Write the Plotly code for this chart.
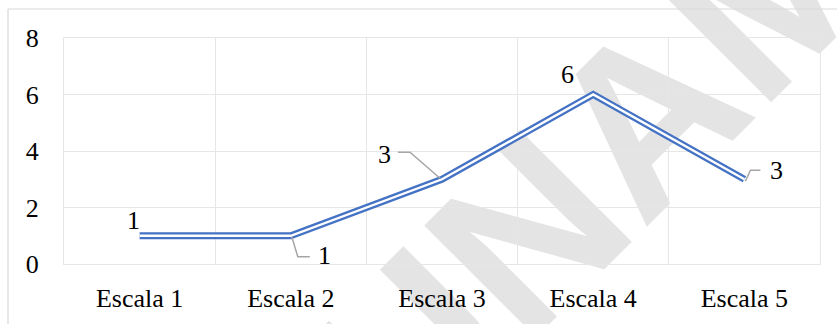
import plotly.graph_objects as go

# Chart data
categories = ["Escala 1", "Escala 2", "Escala 3", "Escala 4", "Escala 5"]
values = [1, 1, 3, 6, 3]
y_ticks = [0, 2, 4, 6, 8]

BLUE = "#4472C4"
GRID = "#e6e6e6"
LEADER = "#a6a6a6"
SERIF = "Times New Roman, Liberation Serif, DejaVu Serif, serif"

# plot-area geometry in pixels (used for paper-relative decorations)
W, H = 837, 324
ML, MR, MT, MB = 64, 17, 38, 60
PW, PH = W - ML - MR, H - MT - MB


def px_to_paper(px, py):
    return (px - ML) / PW, (H - MB - py) / PH


fig = go.Figure()

# double (compound) line: thick blue stroke with a thin white core
fig.add_trace(go.Scatter(x=categories, y=values, mode="lines",
                         line=dict(color=BLUE, width=7), hoverinfo="skip"))
fig.add_trace(go.Scatter(x=categories, y=values, mode="lines",
                         line=dict(color="white", width=2.4), hoverinfo="skip"))

# data labels: (x shift, y shift) in pixels for each point
label_shift = [(-6, 15), (34, -20), (-58, 25), (-26, 20), (32, 9)]
for cat, v, (dx, dy) in zip(categories, values, label_shift):
    fig.add_annotation(x=cat, y=v, text=str(v), showarrow=False,
                       xshift=dx, yshift=dy, xanchor="center", yanchor="middle",
                       font=dict(family=SERIF, size=26, color="black"))

# leader lines (pixel paths anchored on the data point, y up)
leaders = {
    1: [(1, -1), (7, -21), (19, -21)],
    2: [(-44, 27), (-32, 27), (-2, 1)],
    4: [(1, -2), (6, 9), (16, 9)],
}
shapes = []
for i, pts in leaders.items():
    path = "M" + " L".join(f"{x},{y}" for x, y in pts)
    shapes.append(dict(type="path", xref="x", yref="y",
                       xsizemode="pixel", ysizemode="pixel",
                       xanchor=categories[i], yanchor=values[i],
                       path=path, line=dict(color=LEADER, width=1.5)))

# chart-area border (top and left edges)
bx, by = px_to_paper(8, 9)
rx, _ = px_to_paper(W + 5, 0)
_, bot = px_to_paper(0, H + 5)
shapes.append(dict(type="line", xref="paper", yref="paper", x0=bx, x1=rx, y0=by, y1=by,
                   line=dict(color="#d9d9d9", width=1.2)))
shapes.append(dict(type="line", xref="paper", yref="paper", x0=bx, x1=bx, y0=by, y1=bot,
                   line=dict(color="#d9d9d9", width=1.2)))

# watermark text behind the grid
cx, cy = px_to_paper(580, 150)
shapes.append(dict(type="rect", xref="paper", yref="paper", layer="below",
                   x0=cx - 0.01, x1=cx + 0.01, y0=cy - 0.01, y1=cy + 0.01,
                   line=dict(width=0), fillcolor="rgba(0,0,0,0)",
                   label=dict(text="UNAM", textangle=-45, textposition="middle center",
                              font=dict(family="Liberation Sans", size=230,
                                        color="#e4e4e4", weight="bold"))))

fig.update_layout(
    width=W, height=H,
    margin=dict(l=ML, r=MR, t=MT, b=MB, autoexpand=False),
    paper_bgcolor="white", plot_bgcolor="rgba(0,0,0,0)",
    showlegend=False,
    shapes=shapes,
    xaxis=dict(type="category", range=[-0.5, 4.5], tickson="boundaries",
               showgrid=True, gridcolor=GRID, gridwidth=1.2,
               showline=True, linecolor=GRID, linewidth=1.2, mirror=True,
               ticks="", ticklabelstandoff=11, automargin=False,
               tickfont=dict(family=SERIF, size=26, color="black"),
               fixedrange=True),
    yaxis=dict(range=[0, 8], tickvals=y_ticks, ticktext=[str(t) for t in y_ticks],
               showgrid=True, gridcolor=GRID, gridwidth=1.2, zeroline=False,
               showline=True, linecolor=GRID, linewidth=1.2, mirror=True,
               ticks="", ticklabelstandoff=19, automargin=False,
               tickfont=dict(family=SERIF, size=26, color="black"),
               fixedrange=True),
)

fig.write_html("out.html")
